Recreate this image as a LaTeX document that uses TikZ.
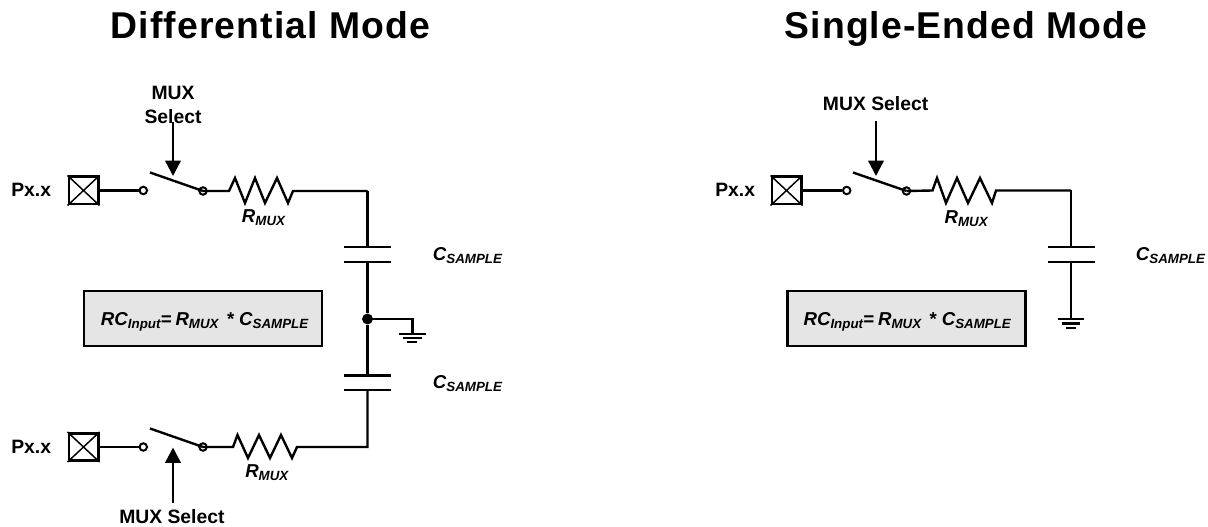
\documentclass[tikz,border=0pt]{standalone}
\usepackage{fontspec}
\setmainfont{Liberation Sans}
\usetikzlibrary{arrows.meta}
\newcommand{\lblfont}{\fontsize{14.5}{17}\selectfont\bfseries}
\newcommand{\bi}[2]{{\fontsize{14}{17}\selectfont\bfseries\itshape #1\raisebox{-2.2pt}{\fontsize{10}{12}\selectfont #2}}}
\newcommand{\rceq}{\bi{RC}{Input}\bi{=\hspace{0.22em}R}{MUX}\hspace{0.4em}\bi{*\hspace{0.3em}C}{SAMPLE}}
\tikzset{
  x=0.75pt,y=-0.75pt,
  wire/.style={line width=1.8pt,line join=miter},
  titletext/.style={inner sep=0,anchor=base,font=\fontsize{28}{34}\selectfont\bfseries\addfontfeature{LetterSpace=2.9}},
  lbl/.style={inner sep=0,anchor=base west,font=\lblfont},
  lblc/.style={inner sep=0,align=center,font=\lblfont},
  contact/.style={circle,draw,line width=1.5pt,fill=white,minimum size=5.6pt,inner sep=0},
  dotnode/.style={circle,fill=black,minimum size=8.2pt,inner sep=0},
  pad/.style={rectangle,draw,line width=1.9pt,minimum width=22.1pt,minimum height=20.6pt,inner sep=0},
  eqbox/.style={rectangle,draw,line width=1.8pt,fill=black!10,minimum width=178.5pt,minimum height=41.5pt,inner sep=0},
  plate/.style={line width=1.8pt},
  sel/.style={line width=1.8pt,-{Triangle[length=11.5pt,width=11.5pt]}},
  padx/.style={line width=1.1pt},
}
\begin{document}
\begin{tikzpicture}
\useasboundingbox (0,0) rectangle (1208,527);
% ---- titles
\node[titletext] (t1) at (270.5,38.5) {Differential Mode};
\node[titletext] (t2) at (966,38.5) {Single-Ended Mode};

% ---- DIFFERENTIAL: upper branch
\node[lbl] (p1) at (11,196.7) {Px.x};
\node[pad] (pad1) at (83.5,190.5) {};
\draw[padx] (pad1.north west) -- (pad1.south east) (pad1.north east) -- (pad1.south west);
\node[contact] (c1a) at (143.3,190.5) {};
\node[contact] (c1b) at (203,191) {};
\draw[wire] (pad1.east) -- (c1a.west);
\coordinate (b1) at (150,172.5);
\draw[wire] (b1) -- (c1b.center);
\coordinate (r1a) at (229,191);
\coordinate (r1b) at (293,191);
\coordinate (n1) at (367.5,191);
\draw[wire] (c1b.center) -- (r1a) -- (235,178) -- (245,203) -- (255,178) -- (265,203) -- (277,178) -- (288,203) -- (r1b) -- (n1);
\node[lbl] (r1l) at (241.7,222.7) {\bi{R}{MUX}};
\node[lblc] (m1) at (173,105) {MUX\\[1.5pt]Select};
\coordinate (a1s) at (173,122);
\coordinate (a1e) at (173,176);
\draw[sel] (a1s) -- (a1e);

% ---- DIFFERENTIAL: capacitors
\coordinate (c1t) at (367.5,247);
\coordinate (c1u) at (367.5,262);
\coordinate (c2t) at (367.5,375.5);
\coordinate (c2u) at (367.5,390);
\draw[wire] (n1) -- (c1t);
\draw[plate] (344,247) -- (391,247) (344,262) -- (391,262);
\node[dotnode] (j) at (367.5,319) {};
\draw[wire] (c1u) -- (j) -- (c2t);
\draw[plate] (344,375.5) -- (391,375.5) (344,390) -- (391,390);
\node[lbl] (cs1) at (432.7,260.7) {\bi{C}{SAMPLE}};
\node[lbl] (cs2) at (432.7,388.7) {\bi{C}{SAMPLE}};
% ground
\coordinate (g1) at (412.5,334);
\draw[wire] (j.center) -| (g1);
\draw[plate] (399,334) -- (426,334) (403,338) -- (422,338) (407,342) -- (417,342);

% ---- box
\node[eqbox] (box1) at (202.7,318.5) {};
\node[lbl] (box1t) at (100.7,325.7) {\rceq};

% ---- DIFFERENTIAL: lower branch
\node[lbl] (p2) at (11,453.3) {Px.x};
\node[pad] (pad2) at (83.5,447) {};
\draw[padx] (pad2.north west) -- (pad2.south east) (pad2.north east) -- (pad2.south west);
\node[contact] (c2a) at (143.3,447) {};
\node[contact] (c2b) at (203,447) {};
\draw[wire] (pad2.east) -- (c2a.west);
\coordinate (b2) at (150,428.5);
\draw[wire] (b2) -- (c2b.center);
\coordinate (r2a) at (233,447);
\coordinate (r2b) at (297,447);
\coordinate (n2) at (367.5,447);
\draw[wire] (c2b.center) -- (r2a) -- (237.5,435) -- (248,458) -- (259,435) -- (270,458) -- (281,435) -- (292,458) -- (r2b) -- (n2) -- (c2u);
\node[lbl] (r2l) at (245,478) {\bi{R}{MUX}};
\node[lbl] (m2) at (119,523) {MUX Select};
\coordinate (a2s) at (173,503);
\coordinate (a2e) at (173,447.5);
\draw[sel] (a2s) -- (a2e);

% ---- SINGLE-ENDED
\node[lbl] (p3) at (715,196.7) {Px.x};
\node[pad] (pad3) at (786.5,190.5) {};
\draw[padx] (pad3.north west) -- (pad3.south east) (pad3.north east) -- (pad3.south west);
\node[contact] (c3a) at (846.7,190.5) {};
\node[contact] (c3b) at (906.5,191) {};
\draw[wire] (pad3.east) -- (c3a.west);
\coordinate (b3) at (853,172.5);
\draw[wire] (b3) -- (c3b.center);
\coordinate (r3a) at (932.5,190.5);
\coordinate (r3b) at (996,190.5);
\coordinate (n3) at (1071,190.5);
\draw[wire] (c3b.center) -- (r3a) -- (937,178) -- (946,203) -- (957,178) -- (968,203) -- (980,178) -- (992,203) -- (r3b) -- (n3);
\node[lbl] (r3l) at (944.3,223.3) {\bi{R}{MUX}};
\node[lbl] (m3) at (822.7,111) {MUX Select};
\coordinate (a3s) at (876,121);
\coordinate (a3e) at (876,176);
\draw[sel] (a3s) -- (a3e);
\coordinate (c3t) at (1071,247);
\coordinate (c3u) at (1071,262);
\coordinate (g3) at (1071,319);
\draw[wire] (n3) -- (c3t);
\draw[plate] (1047.5,247) -- (1094.5,247) (1047.5,262) -- (1094.5,262);
\draw[wire] (c3u) -- (g3);
\draw[plate] (1058,319.3) -- (1084,319.3) (1062,323.6) -- (1080,323.6) (1066,328) -- (1076,328);
\node[lbl] (cs3) at (1135.7,260.7) {\bi{C}{SAMPLE}};
\node[eqbox] (box2) at (906.5,318.5) {};
\node[lbl] (box2t) at (803.3,325.7) {\rceq};
\end{tikzpicture}
\end{document}
